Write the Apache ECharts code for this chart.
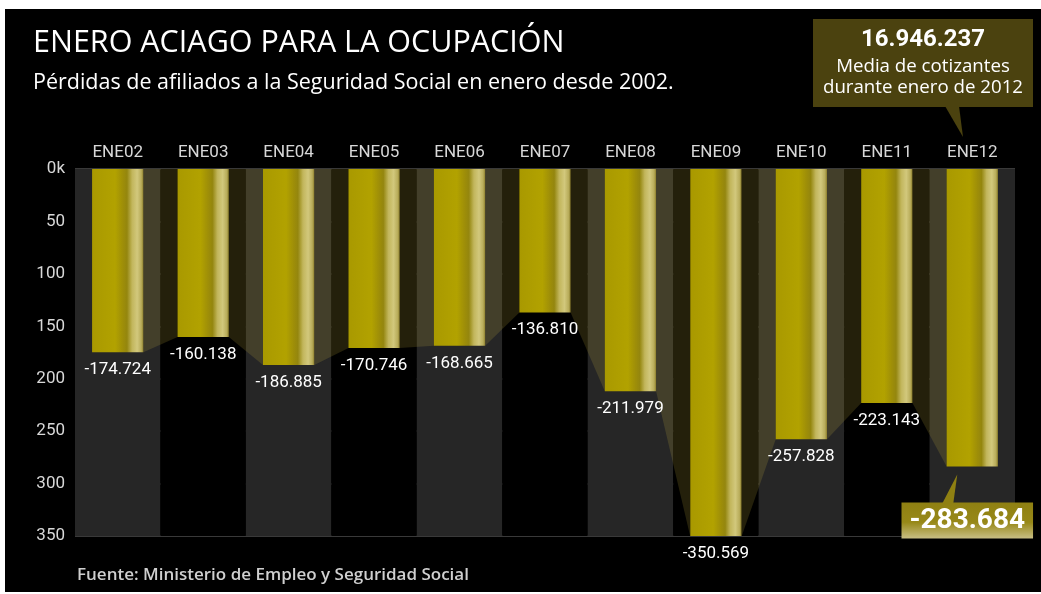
<!DOCTYPE html>
<html>
<head>
<meta charset="utf-8">
<script src="https://cdn.jsdelivr.net/npm/echarts@6/dist/echarts.min.js"></script>
<style>
  html, body { margin:0; padding:0; background:#ffffff; }
  #chart { position:absolute; left:5px; top:9px; width:1036px; height:583px; background:#000000; }
</style>
</head>
<body>
<div id="chart"></div>
<script>
const categories = ['ENE02','ENE03','ENE04','ENE05','ENE06','ENE07','ENE08','ENE09','ENE10','ENE11','ENE12'];
const losses = [-174.724, -160.138, -186.885, -170.746, -168.665, -136.810, -211.979, -350.569, -257.828, -223.143, -283.684];
const yTicks = { min: -350, max: 0, interval: 50 };
const titleText = 'ENERO ACIAGO PARA LA OCUPACIÓN';
const subtitleText = 'Pérdidas de afiliados a la Seguridad Social en enero desde 2002.';
const sourceText = 'Fuente: Ministerio de Empleo y Seguridad Social';
const boxValue = '16.946.237';
const boxLines = ['Media de cotizantes', 'durante enero de 2012'];

const FONT = 'Roboto, "Liberation Sans", sans-serif';
const WFONT = '"Open Sans", Roboto, sans-serif';
const chart = echarts.init(document.getElementById('chart'), null, { renderer: 'canvas' });

const barGrad = new echarts.graphic.LinearGradient(0, 0, 1, 0, [
  { offset: 0, color: '#a99900' },
  { offset: 0.45, color: '#b2a200' },
  { offset: 0.6, color: '#9e8e08' },
  { offset: 0.68, color: '#94860e' },
  { offset: 0.78, color: '#c2b65c' },
  { offset: 0.88, color: '#d2c87c' },
  { offset: 0.96, color: '#b8ac5a' },
  { offset: 1, color: '#8c7e2c' }
]);

const shadowData = [];
for (let i = 0; i < losses.length - 1; i++) {
  shadowData.push([i, losses[i], losses[i + 1]]);
}

const lastIdx = losses.length - 1;
const barData = losses.map((v, i) => {
  if (i !== lastIdx) return v;
  return {
    value: v,
    label: {
      show: true,
      position: 'bottom',
      distance: 36,
      offset: [-5, 0],
      fontSize: 28,
      fontWeight: 'bold',
      color: '#ffffff',
      fontFamily: FONT,
      padding: [5, 8, 3, 8],
      backgroundColor: new echarts.graphic.LinearGradient(0, 0, 0, 1, [
        { offset: 0, color: '#8f8012' },
        { offset: 0.55, color: '#978818' },
        { offset: 1, color: '#c8be84' }
      ])
    }
  };
});

const option = {
  animation: false,
  backgroundColor: 'transparent',
  grid: { left: 70, right: 26, top: 160, bottom: 56 },
  xAxis: {
    type: 'category',
    data: categories,
    position: 'top',
    axisLine: { show: false },
    axisTick: { show: false },
    axisLabel: { color: '#d8d8d8', fontSize: 17, fontFamily: FONT, margin: 8 },
    splitArea: { show: true, areaStyle: { color: ['#262626', '#000000'] } }
  },
  yAxis: {
    type: 'value',
    min: yTicks.min,
    max: yTicks.max,
    interval: yTicks.interval,
    axisLine: { show: false },
    axisTick: { show: false },
    axisLabel: {
      color: '#d8d8d8', fontSize: 17, fontFamily: FONT, margin: 10,
      formatter: v => v === 0 ? '0k' : String(-v)
    },
    splitLine: { show: true, lineStyle: { color: '#4c4c4c', width: 1.5 } }
  },
  series: [
    {
      type: 'custom',
      z: 1,
      data: shadowData,
      renderItem: function (params, api) {
        const i = api.value(0);
        const v1 = api.value(1);
        const v2 = api.value(2);
        const top = api.coord([i, 0]);
        const a = api.coord([i, v1]);
        const b = api.coord([i + 1, v2]);
        const half = api.size([1, 0])[0] * 0.3;
        return {
          type: 'polygon',
          shape: { points: [
            [top[0] + half, top[1]],
            [a[0] + half, a[1]],
            [b[0] - half, b[1]],
            [b[0] - half, top[1]]
          ] },
          style: { fill: 'rgba(200,180,60,0.18)' }
        };
      }
    },
    {
      type: 'bar',
      z: 3,
      data: barData,
      barWidth: '60%',
      itemStyle: { color: barGrad },
      label: {
        show: true,
        position: 'bottom',
        distance: 9,
        color: '#ffffff',
        fontSize: 17,
        fontFamily: FONT,
        formatter: p => p.value.toFixed(3)
      }
    }
  ],
  graphic: [
    { id: 'title', type: 'text', x: 28, y: 34, style: { text: titleText, fill: '#ffffff', font: 'normal 30.5px ' + WFONT, verticalAlign: 'middle' } },
    { id: 'subtitle', type: 'text', x: 28, y: 74, style: { text: subtitleText, fill: '#ffffff', font: 'normal 21.5px ' + WFONT, verticalAlign: 'middle' } },
    { id: 'source', type: 'text', x: 72, y: 566, style: { text: sourceText, fill: '#cfcfcf', font: '600 17px ' + WFONT, verticalAlign: 'middle' } },
    { id: 'boxRect', type: 'rect', shape: { x: 808, y: 10, width: 220, height: 88 }, style: { fill: '#4b420f' } },
    { id: 'boxPtr', type: 'polygon', shape: { points: [[940, 97], [954, 97], [958, 128]] }, style: { fill: '#4b420f' } },
    { id: 'boxVal', type: 'text', x: 918, y: 31, style: { text: boxValue, fill: '#ffffff', font: 'bold 24px ' + FONT, align: 'center', verticalAlign: 'middle' } },
    { id: 'boxL1', type: 'text', x: 918, y: 58, style: { text: boxLines[0], fill: '#ffffff', font: 'normal 18.7px ' + WFONT, align: 'center', verticalAlign: 'middle' } },
    { id: 'boxL2', type: 'text', x: 918, y: 79, style: { text: boxLines[1], fill: '#ffffff', font: 'normal 18.7px ' + WFONT, align: 'center', verticalAlign: 'middle' } }
  ]
};
chart.setOption(option);

// pointer from the ENE12 value box to the bar end, located through the chart's scales
const tip = chart.convertToPixel({ gridIndex: 0 }, [lastIdx, losses[lastIdx]]);
chart.setOption({
  graphic: [
    { id: 'valPtr', type: 'polygon', z: 10, shape: { points: [[tip[0] - 30, tip[1] + 37], [tip[0] - 19, tip[1] + 37], [tip[0] - 15, tip[1] + 8]] }, style: { fill: '#8f8012' } }
  ]
});
</script>
</body>
</html>
